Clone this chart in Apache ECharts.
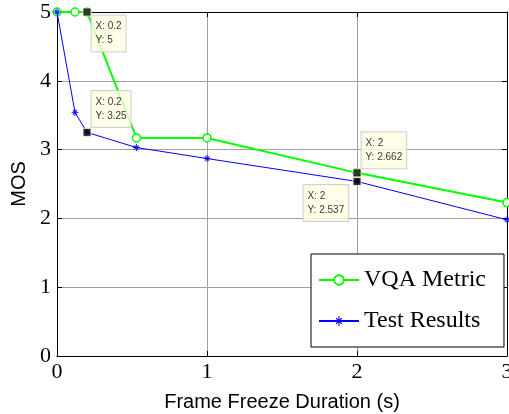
<!DOCTYPE html>
<html>
<head>
<meta charset="utf-8">
<script src="https://cdn.jsdelivr.net/npm/echarts@6/dist/echarts.min.js"></script>
<style>html,body{margin:0;padding:0;background:#fff}#c{width:509px;height:414px}</style>
</head>
<body>
<div id="c"></div>
<script>
const vqaX = [0, 0.12, 0.2, 0.53, 1, 2, 3];
const vqaY = [5, 5, 5, 3.17, 3.17, 2.662, 2.23];
const testX = [0, 0.12, 0.2, 0.53, 1, 2, 3];
const testY = [5, 3.54, 3.25, 3.03, 2.87, 2.537, 1.98];
const tipX = [0.2, 0.2, 2, 2];
const tipY = [5, 3.25, 2.662, 2.537];
const tipOffsets = [[9, 8], [9, -37], [9, -36], [-49, 8]];
const xTicks = [0, 1, 2, 3];
const yTicks = [0, 1, 2, 3, 4, 5];

const star = 'path://M-0.6,-5L0.6,-5L0.6,5L-0.6,5Z M-5,-0.6L5,-0.6L5,0.6L-5,0.6Z M-3.5,-2.6L-2.6,-3.5L3.5,2.6L2.6,3.5Z M3.5,-2.6L2.6,-3.5L-3.5,2.6L-2.6,3.5Z';
const serif = 'Liberation Serif';
const sans = 'Liberation Sans';

const chart = echarts.init(document.getElementById('c'), null, {renderer: 'canvas'});
const axisCommon = {
  axisLine: {show: true, onZero: false, lineStyle: {color: '#000', width: 1}},
  axisTick: {show: true, inside: true, length: 5, lineStyle: {color: '#000'}},
};
chart.setOption({
  animation: false,
  backgroundColor: '#fff',
  grid: {left: 57, right: 2, top: 12, bottom: 58, containLabel: false, outerBoundsMode: 'none'},
  xAxis: [{
    type: 'value', min: xTicks[0], max: xTicks[xTicks.length - 1], interval: 1,
    position: 'bottom',
    name: 'Frame Freeze Duration (s)', nameLocation: 'middle', nameGap: 36,
    nameTextStyle: {fontFamily: sans, fontSize: 20, color: '#000'},
    ...axisCommon,
    axisLabel: {fontFamily: serif, fontSize: 22, color: '#000', margin: 5},
    splitLine: {show: true, lineStyle: {color: '#a0a0a0', width: 1}}
  }, {
    type: 'value', min: 0, max: 3, interval: 1, position: 'top',
    ...axisCommon, axisLabel: {show: false}, splitLine: {show: false}
  }],
  yAxis: [{
    type: 'value', min: yTicks[0], max: yTicks[yTicks.length - 1], interval: 1,
    position: 'left',
    name: 'MOS', nameLocation: 'middle', nameGap: 22,
    nameTextStyle: {fontFamily: sans, fontSize: 20, color: '#000'},
    ...axisCommon,
    axisLabel: {fontFamily: serif, fontSize: 22, color: '#000', margin: 6},
    splitLine: {show: true, lineStyle: {color: '#a0a0a0', width: 1}}
  }, {
    type: 'value', min: 0, max: 5, interval: 1, position: 'right',
    ...axisCommon, axisLabel: {show: false}, splitLine: {show: false}
  }],
  legend: {
    show: true, orient: 'vertical', left: 311, top: 254,
    padding: [14, 18, 14, 7], itemGap: 17, itemWidth: 40, itemHeight: 12,
    backgroundColor: '#fff', borderColor: '#000', borderWidth: 1, borderRadius: 0,
    textStyle: {fontFamily: serif, fontSize: 24, color: '#000', padding: [0, 0, 0, 0]},
    data: ['VQA Metric', 'Test Results']
  },
  series: [{
    name: 'VQA Metric', type: 'line',
    data: vqaX.map((x, i) => [x, vqaY[i]]),
    symbol: 'circle', symbolSize: 8, showAllSymbol: true,
    itemStyle: {color: '#fff', borderColor: '#00ff00', borderWidth: 1.5},
    lineStyle: {color: '#00ff00', width: 2},
    color: '#00ff00', z: 3
  }, {
    name: 'Test Results', type: 'line',
    data: testX.map((x, i) => [x, testY[i]]),
    symbol: star, symbolSize: 7, showAllSymbol: true,
    itemStyle: {color: '#0000ff'},
    lineStyle: {color: '#0000ff', width: 1},
    color: '#0000ff', z: 4
  }, {
    name: 'tips', type: 'scatter', z: 10,
    symbol: 'rect', symbolSize: 8,
    itemStyle: {color: '#000', borderColor: '#ffffe0', borderWidth: 1},
    data: tipX.map((x, i) => ({
      value: [x, tipY[i]],
      label: {position: tipOffsets[i]}
    })),
    label: {
      show: true, align: 'left', verticalAlign: 'top',
      formatter: p => 'X: ' + p.value[0] + '\nY: ' + p.value[1],
      fontFamily: sans, fontSize: 10, color: '#000', lineHeight: 14,
      backgroundColor: '#ffffe3', borderColor: '#c8c8c0', borderWidth: 1,
      padding: [4, 4, 4, 4]
    },
    emphasis: {disabled: true}
  }]
});
</script>
</body>
</html>
